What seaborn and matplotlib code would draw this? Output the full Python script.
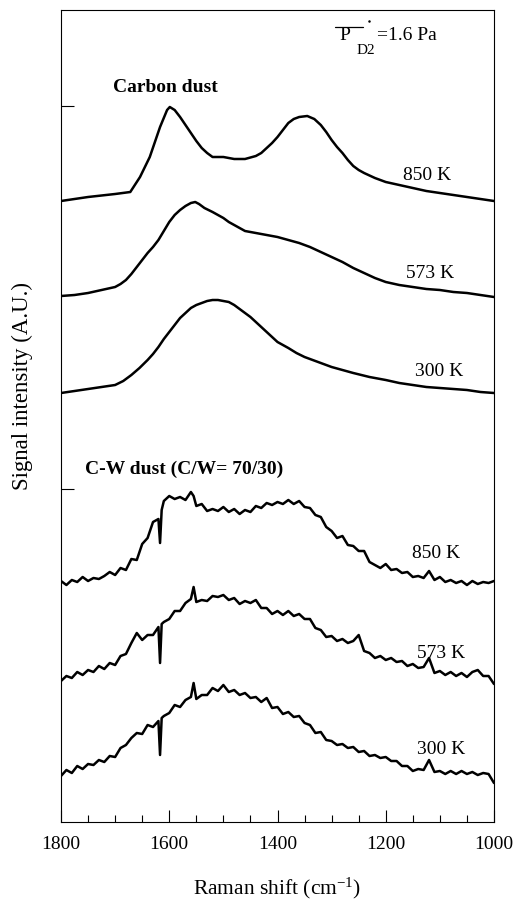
import matplotlib
matplotlib.use("Agg")
import matplotlib.pyplot as plt
import seaborn as sns
import pandas as pd
from matplotlib.ticker import MultipleLocator, FixedLocator, NullFormatter

# ---------------- data (Raman shift in cm^-1, intensity in A.U. with offsets) ---------------
c850_x = [1800, 1750, 1700, 1672, 1654, 1636, 1617, 1604, 1599, 1590, 1580, 1570, 1560, 1550,
          1540, 1530, 1520, 1500, 1480, 1460, 1440, 1430, 1420, 1410, 1400, 1390, 1380, 1370,
          1360, 1345, 1332, 1320, 1310, 1300, 1290, 1280, 1270, 1260, 1250, 1240, 1220, 1200,
          1175, 1150, 1125, 1100, 1075, 1050, 1025, 1000]
c850_y = [621, 625, 628, 630, 645, 665, 695, 712, 715, 712, 705, 697, 689, 681,
          674, 669, 665, 665, 663, 663, 666, 669, 674, 679, 685, 692, 699, 703,
          705, 706, 703, 697, 690, 682, 675, 669, 662, 656, 652, 649, 644, 640,
          637, 634, 631, 629, 627, 625, 623, 621]

c573_x = [1800, 1775, 1750, 1725, 1700, 1690, 1680, 1670, 1660, 1650, 1640, 1630, 1620, 1610,
          1600, 1590, 1580, 1570, 1560, 1552, 1545, 1535, 1520, 1510, 1500, 1490, 1480, 1470,
          1460, 1450, 1440, 1420, 1400, 1380, 1360, 1340, 1320, 1300, 1280, 1260, 1240, 1220,
          1200, 1175, 1150, 1125, 1100, 1075, 1050, 1025, 1000]
c573_y = [526, 527, 529, 532, 535, 538, 542, 548, 555, 562, 569, 575, 582, 591,
          600, 607, 612, 616, 619, 620, 618, 614, 610, 607, 604, 600, 597, 594,
          591, 590, 589, 587, 585, 582, 579, 575, 570, 565, 560, 554, 549, 544,
          540, 537, 535, 533, 532, 530, 529, 527, 525]

c300_x = [1800, 1775, 1750, 1725, 1700, 1685, 1670, 1655, 1640, 1630, 1620, 1610, 1600, 1590,
          1580, 1570, 1560, 1550, 1540, 1530, 1520, 1510, 1500, 1490, 1480, 1470, 1460, 1450,
          1440, 1430, 1420, 1410, 1400, 1390, 1380, 1365, 1350, 1335, 1320, 1300, 1280, 1260,
          1230, 1200, 1175, 1150, 1125, 1100, 1075, 1050, 1025, 1000]
c300_y = [429, 431, 433, 435, 437, 441, 447, 454, 462, 468, 475, 483, 490, 497,
          504, 509, 514, 517, 519, 521, 522, 522, 521, 520, 517, 513, 509, 505,
          500, 495, 490, 485, 480, 477, 474, 469, 465, 462, 459, 455, 452, 449,
          445, 442, 439, 437, 435, 434, 433, 432, 430, 429]

cw_x = [1800, 1790, 1780, 1770, 1760, 1750, 1740, 1730, 1720, 1710, 1700, 1690, 1680, 1670,
        1660, 1650, 1640, 1630, 1620, 1617, 1614, 1610, 1600, 1590, 1580, 1570, 1560, 1555,
        1550, 1540, 1530, 1520, 1510, 1500, 1490, 1480, 1470, 1460, 1450, 1440, 1430, 1420,
        1410, 1400, 1390, 1380, 1370, 1360, 1350, 1340, 1330, 1320, 1310, 1300, 1290, 1280,
        1270, 1260, 1250, 1240, 1230, 1220, 1210, 1200, 1190, 1180, 1170, 1160, 1150, 1140,
        1130, 1120, 1110, 1100, 1090, 1080, 1070, 1060, 1050, 1040, 1030, 1020, 1010, 1000]
cw850_y = [241, 237, 242, 240, 245, 241, 244, 243, 246, 250, 247, 254, 252, 263,
           262, 278, 284, 300, 303, 279, 312, 321, 326, 323, 325, 322, 330, 326,
           316, 318, 311, 313, 311, 315, 310, 313, 308, 312, 310, 316, 314, 319,
           317, 320, 318, 322, 318, 321, 315, 314, 307, 305, 295, 291, 284, 286,
           277, 276, 271, 271, 260, 257, 254, 258, 252, 253, 249, 250, 245, 246,
           244, 251, 242, 245, 240, 242, 239, 241, 237, 241, 238, 240, 239, 241]
cw573_y = [141, 146, 144, 150, 147, 152, 150, 156, 153, 159, 157, 166, 168, 179,
           189, 182, 187, 187, 195, 159, 198, 200, 203, 211, 211, 219, 223, 235,
           220, 222, 221, 226, 225, 227, 222, 224, 218, 221, 219, 222, 214, 214,
           208, 211, 207, 211, 206, 208, 203, 203, 194, 192, 185, 186, 181, 183,
           179, 181, 187, 171, 169, 164, 166, 162, 164, 160, 161, 156, 158, 154,
           155, 164, 149, 151, 147, 150, 146, 149, 145, 150, 152, 146, 146, 138]
cw300_y = [46, 52, 49, 56, 53, 58, 57, 62, 60, 66, 65, 74, 77, 84,
           89, 88, 97, 95, 101, 67, 104, 106, 109, 117, 115, 122, 125, 139,
           123, 127, 127, 134, 131, 137, 130, 132, 127, 129, 124, 125, 120, 124,
           114, 115, 108, 110, 105, 106, 99, 97, 89, 90, 82, 81, 77, 78,
           74, 75, 70, 71, 66, 67, 64, 65, 61, 61, 56, 56, 51, 53,
           52, 62, 50, 51, 48, 51, 48, 51, 48, 50, 47, 49, 48, 39]

temp_labels = ["850 K", "573 K", "300 K"]
carbon_label_pos = [(1124, 647), (1118, 548), (1101, 450)]
cw_label_pos = [(1107, 269), (1098, 169), (1098, 73)]
group_titles = ["Carbon dust", "C-W dust (C/W= 70/30)"]

x_ticks = [1800, 1600, 1400, 1200, 1000]
y_ticks = [333, 716]

# ---------------- style ----------------
sns.set_theme(style="ticks")
plt.rcParams["font.family"] = ["Liberation Serif", "DejaVu Serif"]
plt.rcParams["mathtext.fontset"] = "custom"
plt.rcParams["mathtext.rm"] = "Liberation Serif"
plt.rcParams["mathtext.it"] = "Liberation Serif:italic"
for key in ["text.color", "axes.labelcolor", "xtick.color", "ytick.color", "axes.edgecolor"]:
    plt.rcParams[key] = "black"

fig = plt.figure(figsize=(5.14, 9.01), dpi=100)
ax = fig.add_axes([61 / 514, 1 - 822 / 901, 433 / 514, 812 / 901])

series = [
    (c850_x, c850_y), (c573_x, c573_y), (c300_x, c300_y),
    (cw_x, cw850_y), (cw_x, cw573_y), (cw_x, cw300_y),
]
for xs, ys in series:
    df = pd.DataFrame({"shift": xs, "signal": ys})
    sns.lineplot(data=df, x="shift", y="signal", ax=ax, color="black",
                 linewidth=1.8, sort=False, estimator=None)

ax.set_xlim(1800, 1000)
ax.set_ylim(0, 812)
ax.set_xlabel("")
ax.set_ylabel("")

ax.xaxis.set_major_locator(FixedLocator(x_ticks))
ax.xaxis.set_minor_locator(MultipleLocator(50))
ax.yaxis.set_major_locator(FixedLocator(y_ticks))
ax.yaxis.set_major_formatter(NullFormatter())
ax.tick_params(axis="x", which="major", direction="in", length=9, width=0.8,
               labelsize=14, pad=10, colors="black")
ax.tick_params(axis="x", which="minor", direction="in", length=5, width=0.8, colors="black")
ax.tick_params(axis="y", which="major", direction="in", length=9, width=0.8, colors="black")
for s in ax.spines.values():
    s.set_visible(True)
    s.set_linewidth(0.8)
    s.set_color("black")

for lab, (x, y) in zip(temp_labels, carbon_label_pos):
    ax.text(x, y, lab, fontsize=14, ha="center", va="center", color="black")
for lab, (x, y) in zip(temp_labels, cw_label_pos):
    ax.text(x, y, lab, fontsize=14, ha="center", va="center", color="black")

ax.text(1608, 735, group_titles[0], fontsize=14, fontweight="bold", ha="center", va="center",
        color="black")
ax.text(1573, 353, group_titles[1], fontsize=14, fontweight="bold", ha="center", va="center",
        color="black")

# pressure annotation: overlined P with subscript D2
ax.text(1275, 786, "P", fontsize=14, ha="center", va="center", color="black")
ax.text(1236, 771, "D2", fontsize=11, ha="center", va="center", color="black")
ax.text(1216, 786, "=1.6 Pa", fontsize=14, ha="left", va="center", color="black")
ax.plot([1294, 1242], [795, 795], color="black", linewidth=0.9)
ax.plot([1231], [801], marker="o", markersize=0.8, color="black")

fig.text(22 / 514, 1 - 386 / 901, "Signal intensity (A.U.)", rotation=90,
         fontsize=16.5, ha="center", va="center", color="black")
fig.text(277 / 514, 1 - 888 / 901, r"Raman shift (cm$^{\mathregular{-1}}$)",
         fontsize=15.5, ha="center", va="center", color="black")

fig.savefig("out.png", dpi=100)
